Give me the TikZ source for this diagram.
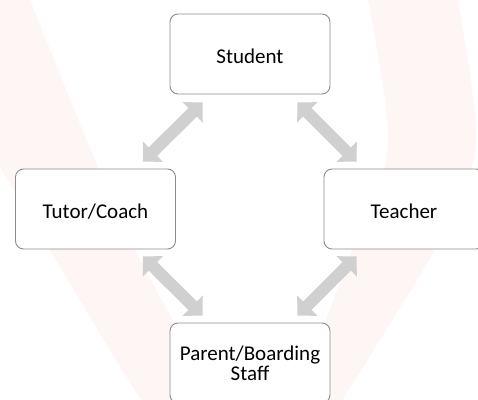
\documentclass[tikz,border=0pt]{standalone}
\usepackage{fontspec}
\setmainfont{Carlito}
\usetikzlibrary{arrows.meta,calc}
\definecolor{wm}{RGB}{254,245,245}
\definecolor{boxline}{RGB}{140,140,140}
\definecolor{arr}{RGB}{208,208,208}
\begin{document}
\begin{tikzpicture}[x=1pt,y=-1pt,
  box/.style={draw=boxline, line width=0.9pt, fill=white, rounded corners=8pt,
    minimum width=160pt, minimum height=80pt, inner sep=0pt,
    font=\fontsize{21}{20}\selectfont, align=center},
  onebox/.style={box, text height=18.5pt, text depth=0pt},
  conn/.style={draw=arr, line width=12pt,
    {Triangle[width=28pt,length=14pt]}-{Triangle[width=28pt,length=14pt]}}]
\useasboundingbox (0,0) rectangle (478,399);
\clip (0,0) rectangle (478,399);
\fill[white] (0,0) rectangle (478,399);
% faint watermark
\fill[wm] plot[smooth,tension=0.6] coordinates {(30,0) (95,160) (140,260) (230,420)}
  -- plot[smooth,tension=0.6] coordinates {(160,420) (133,387) (50,250) (-10,150)}
  -- (-10,0) -- cycle;
\fill[wm] plot[smooth,tension=0.6] coordinates {(368,0) (388,130) (375,200) (352,250) (290,420)}
  -- plot[smooth,tension=0.6] coordinates {(330,420) (435,250) (462,195) (476,130) (458,0)}
  -- cycle;
% boxes
\node[onebox] (st) at (250,54) {Student};
\node[onebox] (tc) at (95.5,209) {Tutor/Coach};
\node[onebox] (te) at (404,209) {Teacher};
\node[box] (pb) at (250,363) {Parent/Boarding\\Staff};
% connectors
\draw[conn] ($(st.south west)+(33,8)$) -- ($(tc.north east)+(-33,-7)$);
\draw[conn] ($(st.south east)+(-33,8)$) -- ($(te.north west)+(33,-7)$);
\draw[conn] ($(tc.south east)+(-33,7)$) -- ($(pb.north west)+(33,-7)$);
\draw[conn] ($(te.south west)+(33,7)$) -- ($(pb.north east)+(-33,-7)$);
\end{tikzpicture}
\end{document}
